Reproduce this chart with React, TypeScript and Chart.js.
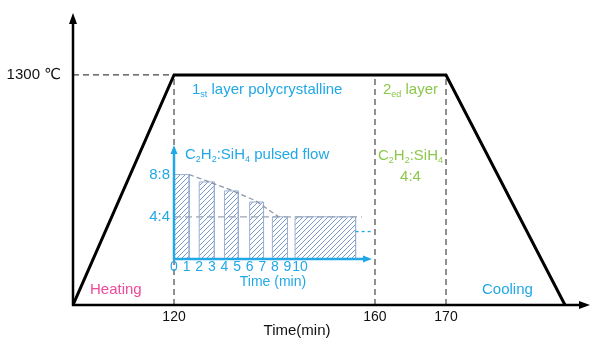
import React, { useEffect, useRef } from 'react';
import { Chart, registerables, LinearScale } from 'chart.js';

Chart.register(...registerables);

// ---------------- data ----------------
// main temperature profile (time in min, temperature in °C)
const profileTime = [0, 120, 170, 200];
const profileTemp = [0, 1300, 1300, 0];
const plateauTemp = 1300;
const timeTicks = [120, 160, 170];
const layerBoundaries = [120, 160, 170];

// schematic (non-uniform) time axis: time value -> fraction of axis length
const timeBreaks = [0, 120, 160, 170, 200, 210];
const timeBreakFractions = [0, 0.1954, 0.5841, 0.7215, 0.9516, 1];

// inset: C2H2:SiH4 pulsed flow (time in min, ratio)
const pulseStart = [0, 2, 4, 6, 7.8, 9.6];
const pulseEnd = [1.2, 3.2, 5.1, 7.1, 9.0, 14.4];
const pulseRatio = [8, 7.3, 6.45, 5.4, 4, 4];
const trendTime = [1.2, 2.7, 4.6, 6.5, 8.3];
const trendRatio = [8.0, 7.35, 6.5, 5.5, 4.0];
const refRatio = 4;
const refTime = [0, 14.9];
const nextTime = [14.4, 15.6];
const nextRatio = 2.6;
const innerTicks = [0, 1, 2, 3, 4, 5, 6, 7, 8, 9, 10];
const ratioTicks = [4, 8];

// ---------------- styles ----------------
const FONT = "'Liberation Sans', Arial, 'DejaVu Sans', sans-serif";
const BLUE = '#22a8e6';
const GREEN = '#8cc84b';
const PINK = '#ee4a9c';

class PiecewiseScale extends LinearScale {
  static id = 'piecewise';
  static defaults = { ticks: { callback: (v: any) => String(v) } };
  getPixelForValue(value: number) {
    if (value === null || value === undefined || isNaN(value)) return NaN;
    const b = timeBreaks, f = timeBreakFractions;
    let dec: number;
    if (value <= b[0]) dec = f[0] + (value - b[0]) * (f[1] - f[0]) / (b[1] - b[0]);
    else {
      let i = 0;
      while (i < b.length - 2 && value > b[i + 1]) i++;
      dec = f[i] + (value - b[i]) * (f[i + 1] - f[i]) / (b[i + 1] - b[i]);
    }
    return (this as any).getPixelForDecimal(dec);
  }
  getValueForPixel(pixel: number) {
    const dec = (this as any).getDecimalForPixel(pixel);
    const b = timeBreaks, f = timeBreakFractions;
    let i = 0;
    while (i < f.length - 2 && dec > f[i + 1]) i++;
    return b[i] + (dec - f[i]) * (b[i + 1] - b[i]) / (f[i + 1] - f[i]);
  }
}
Chart.register(PiecewiseScale as any);

type Part = [string, boolean];
function drawRich(ctx: CanvasRenderingContext2D, x: number, y: number, parts: Part[], size: number, color: string, align: 'left' | 'center' = 'left') {
  ctx.save();
  ctx.fillStyle = color;
  ctx.textBaseline = 'middle';
  ctx.textAlign = 'left';
  const fontFor = (sub: boolean) => `${sub ? Math.round(size * 0.62) : size}px ${FONT}`;
  let w = 0;
  parts.forEach(([t, sub]) => { ctx.font = fontFor(sub); w += ctx.measureText(t).width; });
  let cx = align === 'center' ? x - w / 2 : x;
  parts.forEach(([t, sub]) => {
    ctx.font = fontFor(sub);
    ctx.fillText(t, cx, sub ? y + size * 0.3 : y);
    cx += ctx.measureText(t).width;
  });
  ctx.restore();
}

function arrowHead(ctx: CanvasRenderingContext2D, tipX: number, tipY: number, dir: 'up' | 'right', len: number, half: number, color: string) {
  ctx.save();
  ctx.fillStyle = color;
  ctx.beginPath();
  if (dir === 'up') {
    ctx.moveTo(tipX, tipY);
    ctx.lineTo(tipX - half, tipY + len);
    ctx.lineTo(tipX + half, tipY + len);
  } else {
    ctx.moveTo(tipX, tipY);
    ctx.lineTo(tipX - len, tipY - half);
    ctx.lineTo(tipX - len, tipY + half);
  }
  ctx.closePath();
  ctx.fill();
  ctx.restore();
}

const mainPlugin = {
  id: 'mainDecor',
  afterDatasetsDraw(chart: any) {
    const ctx: CanvasRenderingContext2D = chart.ctx;
    const { left, right, top, bottom } = chart.chartArea;
    const xs = chart.scales.x;
    const ys = chart.scales.y;
    // axes with arrows
    ctx.save();
    ctx.strokeStyle = '#000';
    ctx.lineWidth = 2.5;
    ctx.beginPath();
    ctx.moveTo(left, bottom + 1);
    ctx.lineTo(left, top + 8);
    ctx.moveTo(left - 1, bottom);
    ctx.lineTo(right - 8, bottom);
    ctx.stroke();
    ctx.restore();
    arrowHead(ctx, left, top, 'up', 11, 4, '#000');
    arrowHead(ctx, right, bottom, 'right', 11, 4, '#000');

    // labels
    const yLayer = ys.getPixelForValue(plateauTemp) + 15;
    drawRich(ctx, xs.getPixelForValue(120) + 18, yLayer, [['1', false], ['st', true], [' layer polycrystalline', false]], 15, BLUE);
    drawRich(ctx, xs.getPixelForValue(160) + 8, yLayer, [['2', false], ['ed', true], [' layer', false]], 15, GREEN);
    drawRich(ctx, xs.getPixelForValue(120) + 11, 155, [['C', false], ['2', true], ['H', false], ['2', true], [':SiH', false], ['4', true], [' pulsed flow', false]], 15, BLUE);
    const midL2 = (xs.getPixelForValue(160) + xs.getPixelForValue(170)) / 2;
    drawRich(ctx, midL2, 156, [['C', false], ['2', true], ['H', false], ['2', true], [':SiH', false], ['4', true]], 15, GREEN, 'center');
    drawRich(ctx, midL2, 177, [['4:4', false]], 15, GREEN, 'center');
    drawRich(ctx, 90, 290, [['Heating', false]], 15, PINK);
    drawRich(ctx, 482, 290, [['Cooling', false]], 15, BLUE);
    drawRich(ctx, 297, 331, [['Time(min)', false]], 15, '#111', 'center');
  },
};

const insetPlugin = {
  id: 'insetDecor',
  afterDatasetsDraw(chart: any) {
    const ctx: CanvasRenderingContext2D = chart.ctx;
    const { left, right, top, bottom } = chart.chartArea;
    ctx.save();
    ctx.strokeStyle = BLUE;
    ctx.lineWidth = 2.5;
    ctx.beginPath();
    ctx.moveTo(left, bottom + 1);
    ctx.lineTo(left, top + 7);
    ctx.moveTo(left - 1, bottom);
    ctx.lineTo(right - 7, bottom);
    ctx.stroke();
    ctx.restore();
    arrowHead(ctx, left, top, 'up', 9, 3.5, BLUE);
    arrowHead(ctx, right, bottom, 'right', 9, 3.5, BLUE);
  },
};

const fitX = (h: number) => (s: any) => { s.height = h; s.paddingLeft = 0; s.paddingRight = 0; };
const fitY = (w: number) => (s: any) => { s.width = w; s.paddingTop = 0; s.paddingBottom = 0; };

export default function App() {
  const mainRef = useRef<HTMLCanvasElement>(null);
  const insetRef = useRef<HTMLCanvasElement>(null);

  useEffect(() => {
    Chart.defaults.font.family = FONT;

    const profile = profileTime.map((t, i) => ({ x: t, y: profileTemp[i] }));
    const dashStyle = { borderColor: '#444', borderWidth: 1.3, borderDash: [6, 4], pointRadius: 0, fill: false };

    const main = new Chart(mainRef.current as HTMLCanvasElement, {
      type: 'line',
      data: {
        datasets: [
          { data: profile, borderColor: '#000', borderWidth: 3, pointRadius: 0, fill: false, tension: 0 } as any,
          { data: [{ x: 0, y: plateauTemp }, { x: layerBoundaries[0], y: plateauTemp }], ...dashStyle } as any,
          ...layerBoundaries.map((t) => ({ data: [{ x: t, y: 0 }, { x: t, y: plateauTemp }], ...dashStyle, borderColor: '#555' } as any)),
        ],
      },
      options: {
        responsive: false,
        animation: false,
        events: [],
        layout: { padding: { left: 0, top: 13, right: 10, bottom: 0 } },
        plugins: { legend: { display: false }, tooltip: { enabled: false } },
        scales: {
          x: {
            type: 'piecewise' as any,
            min: timeBreaks[0],
            max: timeBreaks[timeBreaks.length - 1],
            grid: { display: false, drawTicks: false },
            border: { display: false },
            afterBuildTicks: (s: any) => { s.ticks = timeTicks.map((v) => ({ value: v })); },
            afterFit: fitX(46),
            ticks: { autoSkip: false, maxRotation: 0, padding: 4, color: '#111', font: { size: 14 }, callback: (v: any) => String(v) },
          } as any,
          y: {
            type: 'linear',
            min: 0,
            max: 1650,
            grid: { display: false, drawTicks: false },
            border: { display: false },
            afterBuildTicks: (s: any) => { s.ticks = [{ value: plateauTemp }]; },
            afterFit: fitY(73),
            ticks: { padding: 12, color: '#111', font: { size: 15 }, callback: (v: any) => `${v} ℃` },
          } as any,
        },
      },
      plugins: [mainPlugin],
    });

    // hatch pattern for pulses
    const pc = document.createElement('canvas');
    pc.width = 5; pc.height = 5;
    const p = pc.getContext('2d') as CanvasRenderingContext2D;
    p.strokeStyle = '#7b9bd0';
    p.lineWidth = 1;
    p.beginPath();
    p.moveTo(0, 5); p.lineTo(5, 0);
    p.moveTo(-1, 1); p.lineTo(1, -1);
    p.moveTo(4, 6); p.lineTo(6, 4);
    p.stroke();
    const ictx = (insetRef.current as HTMLCanvasElement).getContext('2d') as CanvasRenderingContext2D;
    const pattern = ictx.createPattern(pc, 'repeat');

    const pulses: { x: number; y: number }[] = [];
    pulseStart.forEach((s, i) => {
      pulses.push({ x: s, y: 0 }, { x: s, y: pulseRatio[i] }, { x: pulseEnd[i], y: pulseRatio[i] }, { x: pulseEnd[i], y: 0 });
    });

    const inset = new Chart(insetRef.current as HTMLCanvasElement, {
      type: 'line',
      data: {
        datasets: [
          { data: trendTime.map((t, i) => ({ x: t, y: trendRatio[i] })), borderColor: '#8a97a8', borderWidth: 1.3, borderDash: [5, 3], pointRadius: 0, fill: false } as any,
          { data: refTime.map((t) => ({ x: t, y: refRatio })), borderColor: '#9aa6b4', borderWidth: 1.3, borderDash: [7, 4], pointRadius: 0, fill: false } as any,
          { data: nextTime.map((t) => ({ x: t, y: nextRatio })), borderColor: BLUE, borderWidth: 1.3, borderDash: [3, 3], pointRadius: 0, fill: false } as any,
          { data: pulses, borderColor: '#9ab0d4', borderWidth: 1, pointRadius: 0, fill: 'origin', backgroundColor: pattern, tension: 0 } as any,
        ],
      },
      options: {
        responsive: false,
        animation: false,
        events: [],
        layout: { padding: { left: 0, top: 10, right: 18, bottom: 0 } },
        plugins: { legend: { display: false }, tooltip: { enabled: false } },
        scales: {
          x: {
            type: 'linear',
            min: 0,
            max: 15.7,
            grid: { display: false, drawTicks: false },
            border: { display: false },
            afterBuildTicks: (s: any) => { s.ticks = innerTicks.map((v) => ({ value: v })); },
            afterFit: fitX(36),
            ticks: { autoSkip: false, maxRotation: 0, padding: 0, color: BLUE, font: { size: 14 }, callback: (v: any) => String(v) },
            title: { display: true, text: 'Time (min)', color: BLUE, font: { size: 14 }, padding: { top: 0, bottom: 4 } },
          } as any,
          y: {
            type: 'linear',
            min: 0,
            max: 10.8,
            grid: { display: false, drawTicks: false },
            border: { display: false },
            afterBuildTicks: (s: any) => { s.ticks = ratioTicks.map((v) => ({ value: v })); },
            afterFit: fitY(44),
            ticks: { padding: 4, color: BLUE, font: { size: 15 }, callback: (v: any) => `${v}:${v}` },
          } as any,
        },
      },
      plugins: [insetPlugin],
    });

    return () => {
      main.destroy();
      inset.destroy();
    };
  }, []);

  return (
    <div style={{ position: 'fixed', left: 0, top: 0, width: 600, height: 351, background: '#fff', overflow: 'hidden' }}>
      <canvas ref={mainRef} width={600} height={351} style={{ position: 'absolute', left: 0, top: 0 }} />
      <canvas ref={insetRef} width={260} height={160} style={{ position: 'absolute', left: 130, top: 135 }} />
    </div>
  );
}
